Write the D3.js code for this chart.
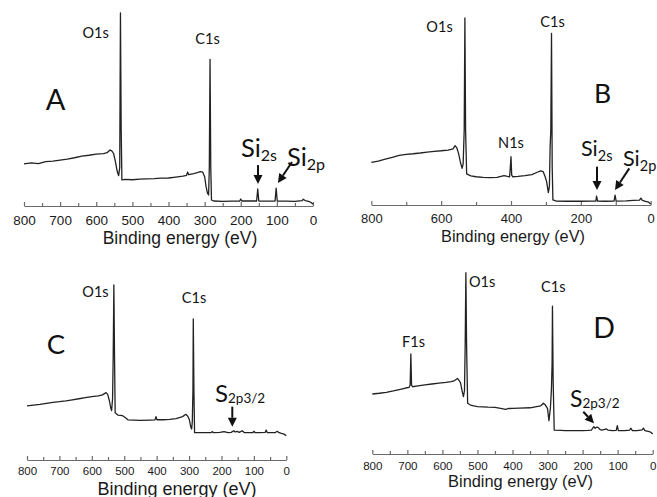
<!DOCTYPE html>
<html>
<head>
<meta charset="utf-8">
<script src="https://cdnjs.cloudflare.com/ajax/libs/d3/7.8.5/d3.min.js"></script>
<style>
  html, body { margin: 0; padding: 0; background: #fff; }
  svg { display: block; }
</style>
</head>
<body>
<div id="chart"></div>
<script>
// XPS survey spectra, [binding energy (eV), intensity], intensity scaled so O1s top = 100
const spectrumA = [
  [800,21.8],[780,22.3],[760,22.0],[740,23.0],[720,23.3],[700,23.8],[680,24.3],[660,25.0],[640,25.8],
  [620,26.3],[600,26.9],[580,27.1],[570,27.6],[562,29.0],[557,28.6],[552,27.2],[547,23],[542,18],
  [538,15.7],[535,20],[533,100],[531,40],[529,13.5],[520,13.8],[500,13.6],[480,13.9],[460,14.1],
  [440,14.2],[420,14.4],[400,14.5],[380,15.0],[360,15.5],[350,15.9],[347,17.6],[344,16.2],[330,16.8],
  [320,17.3],[312,17.8],[305,17.5],[300,15.2],[296,10],[292,6.6],[289,5.7],[287,20],[285,76],[283,20],
  [281,3.1],[275,2.6],[250,2.4],[225,2.5],[203,2.6],[200,3.6],[197,2.6],[170,2.6],[156,2.6],[153,8.8],
  [150,2.6],[120,2.5],[105,2.6],[102,9.2],[99,2.6],[75,2.5],[50,2.4],[30,2.8],[27,3.5],[22,2.8],
  [12,2.4],[5,1.8],[0,0.9]
];
const spectrumB = [
  [800,22.8],[780,23.5],[760,24.5],[740,25.5],[720,26.5],[700,27.1],[680,27.4],[660,27.8],[640,28.3],
  [620,28.7],[600,29.0],[580,29.4],[566,30.0],[560,31.7],[555,30.5],[550,27.5],[545,23],[540,19.6],
  [537,22],[534,40],[532,100],[530,40],[527,16.6],[515,15.6],[500,15.1],[480,14.8],[460,14.6],
  [440,14.8],[420,15.7],[410,15.3],[404,15.1],[402,20],[400,25.8],[398,16],[395,15.1],[380,15.3],
  [360,15.7],[340,16.2],[325,17.5],[315,18.3],[308,17.9],[302,15],[298,12.5],[293,6.6],[290,10],
  [288,31],[286,40],[284,91.8],[282,20],[280,2.7],[270,2.1],[240,2.0],[200,2.0],[170,2.1],[157,2.1],
  [155,4.8],[152,2.1],[130,2.0],[105,2.1],[102,5.3],[99,2.1],[70,2.2],[50,2.5],[32,2.6],[28,3.7],
  [24,2.5],[15,2.0],[6,1.5],[0,0.5]
];
const spectrumC = [
  [800,30.9],[780,31.4],[760,31.8],[740,32.4],[720,32.9],[700,33.3],[680,33.8],[660,34.4],[640,35],
  [620,35.6],[600,36.2],[580,36.6],[567,37.2],[556,38.5],[551,37.5],[546,34],[542,30],[539,28.2],
  [536,35],[534,60],[532,100],[530,60],[528,27],[520,25.7],[505,25.3],[495,24],[488,22.9],[470,22.8],
  [450,22.7],[420,22.8],[405,22.9],[402,24.8],[399,23],[380,23],[360,23.2],[340,23.6],[320,24.8],
  [310,26.1],[304,25],[299,23],[295,19],[292,17.7],[290,22],[288,40],[287,80.6],[285,40],[283,15.6],
  [270,15.6],[250,15.6],[232,15.7],[228,16.2],[224,15.6],[205,15.8],[192,16.2],[180,15.7],[170,15.8],
  [162,16.7],[158,16.0],[152,16.4],[145,15.8],[136,16.7],[130,15.7],[120,15.6],[103,15.7],[100,16.4],
  [96,15.6],[80,15.6],[65,15.8],[62,17.1],[59,15.7],[50,15.6],[35,15.6],[28,16.4],[22,15.6],
  [15,15.2],[7,14.8],[0,13.9]
];
const spectrumD = [
  [800,33.1],[780,33.5],[760,34],[740,34.8],[720,35.7],[705,36.4],[695,36.8],[692,38],[690,55.2],
  [688,38],[685,37.1],[670,37.6],[650,38.1],[630,38.6],[610,39.1],[590,39.5],[575,39.9],[565,40.5],
  [557,41.7],[552,40.5],[548,39],[544,35],[540,31.6],[537,35],[535,60],[533,100],[531,60],[528,28],
  [520,27],[510,26.5],[500,26.1],[470,25.8],[450,25.7],[430,25.0],[420,24.6],[410,25.1],[400,25.2],
  [380,25.3],[350,25.5],[335,26],[320,26.5],[312,28],[306,27],[300,25],[296,18.4],[292,25],[289,35.3],
  [287,50],[286,81.6],[284,40],[281,13.2],[260,13],[250,12.9],[220,12.9],[200,12.9],[185,13],
  [175,13.2],[168,15.1],[164,14.2],[160,14.8],[156,14.7],[150,13.5],[145,13.2],[132,13.8],[128,13.2],
  [115,12.9],[104,13],[101,15.6],[98,12.9],[80,12.9],[66,13.2],[62,14.2],[58,12.9],[45,12.9],
  [30,13.3],[26.5,14.3],[22,12.9],[10,12.4],[4,11.8],[0,11]
];

// peak names: [main text, subscript]
const namesA = [["O1s",""],["C1s",""],["Si","2s"],["Si","2p"]];
const namesB = [["O1s",""],["C1s",""],["N1s",""],["Si","2s"],["Si","2p"]];
const namesC = [["O1s",""],["C1s",""],["S","2p3/2"]];
const namesD = [["F1s",""],["O1s",""],["C1s",""],["S","2p3/2"]];

const ticks100 = [800,700,600,500,400,300,200,100,0];
const minor50 = [750,650,550,450,350,250,150,50];
const ticks200 = [800,600,400,200,0];
const minor100 = [700,500,300,100];

const axisTitle = "Binding energy (eV)";

// layout per panel (pixels for frame, data units for label anchors)
const panels = [
  { letter: "A", spectrum: spectrumA, names: namesA, major: ticks100, minor: minor50,
    x0: 24, x1: 313, axisY: 206, topY: 13, tickFont: 13.5, tickPad: 9,
    titleFont: 17.5, titleX: 180, titleY: 243.5,
    letterPos: [712.8, 49.7], letterFont: 29, subFont: [14.5, 16], bigFont: 25.5, subDy: 4,
    labels: [[602,87,"middle"],[292,84,"middle"],[199.3,25.4,"start"],[72,20.7,"start"]],
    arrows: [[152.2,21.2,152.2,11.4],[58.1,22.8,97,11.9]] },
  { letter: "B", spectrum: spectrumB, names: namesB, major: ticks200, minor: minor100,
    x0: 371.3, x1: 650.7, axisY: 205, topY: 18, tickFont: 13, tickPad: 8.3,
    titleFont: 16.3, titleX: 513, titleY: 241.5,
    letterPos: [138, 54.5], letterFont: 26.5, subFont: [14.5, 14.5], bigFont: 21.5, subDy: 5,
    labels: [[604.7,92.5,"middle"],[281.2,95.2,"middle"],[400,30.5,"middle"],[199.6,26.4,"start"],[79.3,21.0,"start"]],
    arrows: [[153.8,20.5,153.8,8.0],[61.3,19.6,102.2,8.0]] },
  { letter: "C", spectrum: spectrumC, names: namesC, major: ticks100, minor: minor50,
    x0: 27, x1: 286.3, axisY: 460, topY: 285, tickFont: 11.5, tickPad: 6.7,
    titleFont: 18, titleX: 177, titleY: 495,
    letterPos: [710.5, 60.6], letterFont: 27.5, subFont: [14.5, 13.5], bigFont: 24, subDy: 1,
    labels: [[588.7,93,"middle"],[284.8,89.5,"middle"],[220,33.3,"start"]],
    arrows: [[166.6,30.5,166.6,19]] },
  { letter: "D", spectrum: spectrumD, names: namesD, major: ticks100, minor: minor50,
    x0: 372.3, x1: 652.7, axisY: 454, topY: 272.7, tickFont: 11.6, tickPad: 8,
    titleFont: 16.4, titleX: 520.5, titleY: 487,
    letterPos: [139, 64], letterFont: 28.5, subFont: [14.5, 13.5], bigFont: 23, subDy: 1,
    labels: [[682.5,59.2,"middle"],[524.1,91.9,"start"],[283.6,89.5,"middle"],[236,26.1,"start"]],
    arrows: [[198,23.3,167.5,16.9]] }
];

class XpsPanel {
    constructor(_svg, _cfg) {
        this.svg = _svg;
        this.cfg = _cfg;
        this.initVis();
    }

    initVis() {
        let vis = this;
        let c = vis.cfg;

        vis.x = d3.scaleLinear().domain([800, 0]).range([c.x0, c.x1]);
        vis.y = d3.scaleLinear().domain([0, 100]).range([c.axisY, c.topY]);

        vis.g = vis.svg.append("g");
        vis.updateVis();
    }

    updateVis() {
        let vis = this;
        let c = vis.cfg;

        // minor ticks first, then the labelled axis
        vis.g.append("g")
            .attr("transform", `translate(0,${c.axisY})`)
            .call(d3.axisBottom(vis.x).tickValues(c.minor).tickSize(-3).tickSizeOuter(0).tickFormat(""))
            .call(g => g.select(".domain").remove());

        let ax = vis.g.append("g")
            .attr("transform", `translate(0,${c.axisY})`)
            .call(d3.axisBottom(vis.x).tickValues(c.major).tickSize(-4).tickSizeOuter(0).tickPadding(c.tickPad));

        vis.g.selectAll(".tick line, .domain").attr("stroke", "#6b6b6b").attr("stroke-width", 1.2);
        ax.selectAll("text")
            .attr("fill", "#1a1a1a")
            .style("font-family", "'Liberation Sans', Arial, sans-serif")
            .style("font-size", c.tickFont + "px");

        vis.g.append("text")
            .attr("x", c.titleX)
            .attr("y", c.titleY)
            .attr("text-anchor", "middle")
            .attr("fill", "#1a1a1a")
            .style("font-family", "'Liberation Sans', Arial, sans-serif")
            .style("font-size", c.titleFont + "px")
            .text(axisTitle);

        // spectrum
        let line = d3.line().x(d => vis.x(d[0])).y(d => vis.y(d[1]));
        vis.g.append("path")
            .datum(c.spectrum)
            .attr("d", line)
            .attr("fill", "none")
            .attr("stroke", "#222")
            .attr("stroke-width", 1.3)
            .attr("stroke-linejoin", "round");

        // panel letter
        vis.g.append("text")
            .attr("x", vis.x(c.letterPos[0]))
            .attr("y", vis.y(c.letterPos[1]))
            .attr("text-anchor", "middle")
            .attr("fill", "#111")
            .style("font-family", "Lato, sans-serif")
            .style("font-size", c.letterFont + "px")
            .text(c.letter);

        // peak labels
        c.names.forEach((n, i) => {
            let p = c.labels[i];
            let t = vis.g.append("text")
                .attr("x", vis.x(p[0]))
                .attr("y", vis.y(p[1]))
                .attr("text-anchor", p[2])
                .attr("fill", "#111")
                .style("font-family", "Lato, sans-serif");
            if (n[1] === "") {
                t.style("font-size", c.subFont[0] + "px").text(n[0]);
            } else {
                t.style("font-size", c.bigFont + "px");
                t.append("tspan").text(n[0]);
                t.append("tspan")
                    .attr("dy", c.subDy)
                    .style("font-size", c.subFont[1] + "px")
                    .text(n[1]);
            }
        });

        // arrows
        c.arrows.forEach(a => {
            let x1 = vis.x(a[0]), y1 = vis.y(a[1]), x2 = vis.x(a[2]), y2 = vis.y(a[3]);
            let ang = Math.atan2(y2 - y1, x2 - x1);
            let len = 9, half = 4.5;
            let bx = x2 - len * Math.cos(ang), by = y2 - len * Math.sin(ang);
            vis.g.append("line")
                .attr("x1", x1).attr("y1", y1).attr("x2", bx).attr("y2", by)
                .attr("stroke", "#111").attr("stroke-width", 2);
            vis.g.append("path")
                .attr("d", `M${x2},${y2}L${bx + half * Math.sin(ang)},${by - half * Math.cos(ang)}L${bx - half * Math.sin(ang)},${by + half * Math.cos(ang)}Z`)
                .attr("fill", "#111");
        });
    }
}

const svg = d3.select("#chart").append("svg")
    .attr("width", 657)
    .attr("height", 497);

panels.forEach(p => new XpsPanel(svg, p));
</script>
</body>
</html>
